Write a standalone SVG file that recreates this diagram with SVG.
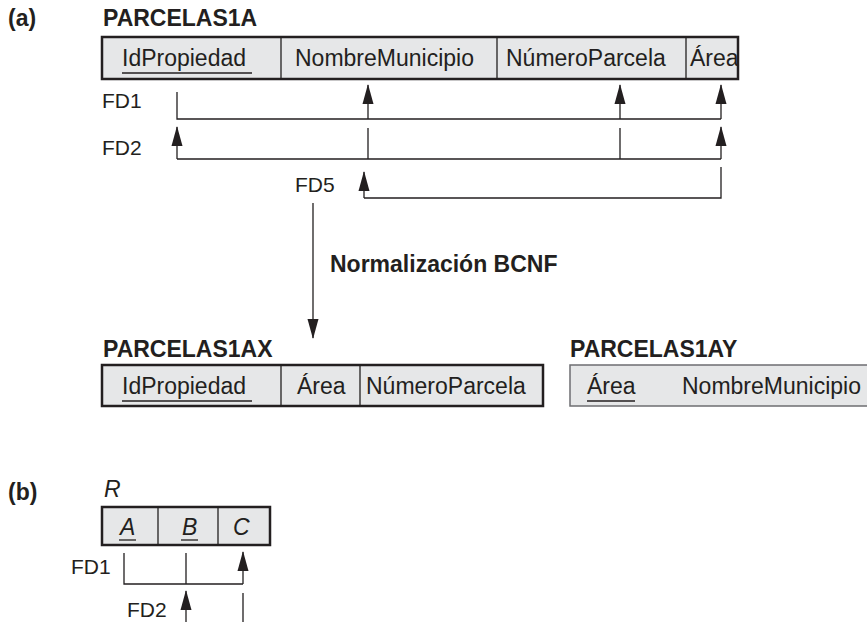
<svg xmlns="http://www.w3.org/2000/svg" width="867" height="622" viewBox="0 0 867 622">
<defs>
<marker id="ah" markerUnits="userSpaceOnUse" markerWidth="20" markerHeight="12" refX="19" refY="6" orient="auto"><path d="M0,0.5 L20,6 L0,11.5 z" fill="#231f20"/></marker>
<style>
text{font-family:"Liberation Sans",Arial,sans-serif;fill:#231f20}
.t{font-size:23px}
.l{font-size:21px}
.b{font-size:23px;font-weight:bold}
.i{font-style:italic}
.box{fill:#e6e7e8;stroke:#231f20;stroke-width:2.5}
.box2{fill:#e6e7e8;stroke:#6d6e71;stroke-width:1.5}
.d{stroke:#231f20;stroke-width:1.3}
.c{stroke:#231f20;stroke-width:1.3;fill:none}
.a{stroke:#231f20;stroke-width:1.3;fill:none;marker-end:url(#ah)}
</style>
</defs>
<rect width="867" height="622" fill="#ffffff"/>
<g id="label-a"><text class="b" x="8" y="26">(a)</text></g>
<g id="parcelas1a">
<text class="b" x="103" y="26">PARCELAS1A</text>
<rect class="box" x="102" y="37" width="636" height="42"/>
<line class="d" x1="281" y1="37" x2="281" y2="79"/>
<line class="d" x1="497" y1="37" x2="497" y2="79"/>
<line class="d" x1="686" y1="37" x2="686" y2="79"/>
<text class="t" x="122" y="66">IdPropiedad</text>
<line class="d" x1="122" y1="73" x2="252" y2="73"/>
<text class="t" x="295" y="66">NombreMunicipio</text>
<text class="t" x="506" y="66">NúmeroParcela</text>
<text class="t" x="690" y="66">Área</text>
</g>
<g id="fd-labels-a">
<text class="l" x="102" y="108">FD1</text>
<text class="l" x="102" y="155">FD2</text>
<text class="l" x="295" y="192">FD5</text>
</g>
<g id="connectors">
<path class="c" d="M177,92 V119 H721"/>
<line class="a" x1="368" y1="119" x2="368" y2="85"/>
<line class="a" x1="620" y1="119" x2="620" y2="85"/>
<line class="a" x1="721" y1="119" x2="721" y2="85"/>
<path class="c" d="M177,159 H721 M368,128 V159 M620,128 V159"/>
<line class="a" x1="177" y1="159" x2="177" y2="127"/>
<line class="a" x1="721" y1="159" x2="721" y2="127"/>
<path class="c" d="M721,167 V198 H364"/>
<line class="a" x1="364" y1="198" x2="364" y2="172"/>
<line class="a" x1="313" y1="203" x2="313" y2="338"/>
<path class="c" d="M124,553 V584 H243 M186,553 V584 M243,593 V622"/>
<line class="a" x1="243" y1="584" x2="243" y2="552"/>
<line class="a" x1="186" y1="622" x2="186" y2="591"/>
</g>
<g id="normalizacion"><text class="b" x="330" y="272">Normalización BCNF</text></g>
<g id="parcelas1ax">
<text class="b" x="103" y="357">PARCELAS1AX</text>
<rect class="box" x="102" y="365" width="441" height="41"/>
<line class="d" x1="281" y1="365" x2="281" y2="406"/>
<line class="d" x1="360" y1="365" x2="360" y2="406"/>
<text class="t" x="122" y="394">IdPropiedad</text>
<line class="d" x1="122" y1="401" x2="252" y2="401"/>
<text class="t" x="297" y="394">Área</text>
<text class="t" x="366" y="394">NúmeroParcela</text>
</g>
<g id="parcelas1ay">
<text class="b" x="570" y="357">PARCELAS1AY</text>
<rect class="box2" x="570" y="365" width="310" height="41"/>
<text class="t" x="587" y="394">Área</text>
<line class="d" x1="587" y1="401" x2="635" y2="401"/>
<text class="t" x="682" y="394">NombreMunicipio</text>
</g>
<g id="label-b"><text class="b" x="8" y="500">(b)</text></g>
<g id="r">
<text class="t i" x="104" y="497">R</text>
<rect class="box" x="102" y="507" width="168" height="38"/>
<line class="d" x1="158" y1="507" x2="158" y2="545"/>
<line class="d" x1="218" y1="507" x2="218" y2="545"/>
<text class="t i" x="120" y="535">A</text>
<line class="d" x1="119" y1="540" x2="136" y2="540"/>
<text class="t i" x="182" y="535">B</text>
<line class="d" x1="181" y1="540" x2="198" y2="540"/>
<text class="t i" x="233" y="535">C</text>
</g>
<g id="fd-labels-b">
<text class="l" x="71" y="574">FD1</text>
<text class="l" x="127" y="617">FD2</text>
</g>
</svg>
